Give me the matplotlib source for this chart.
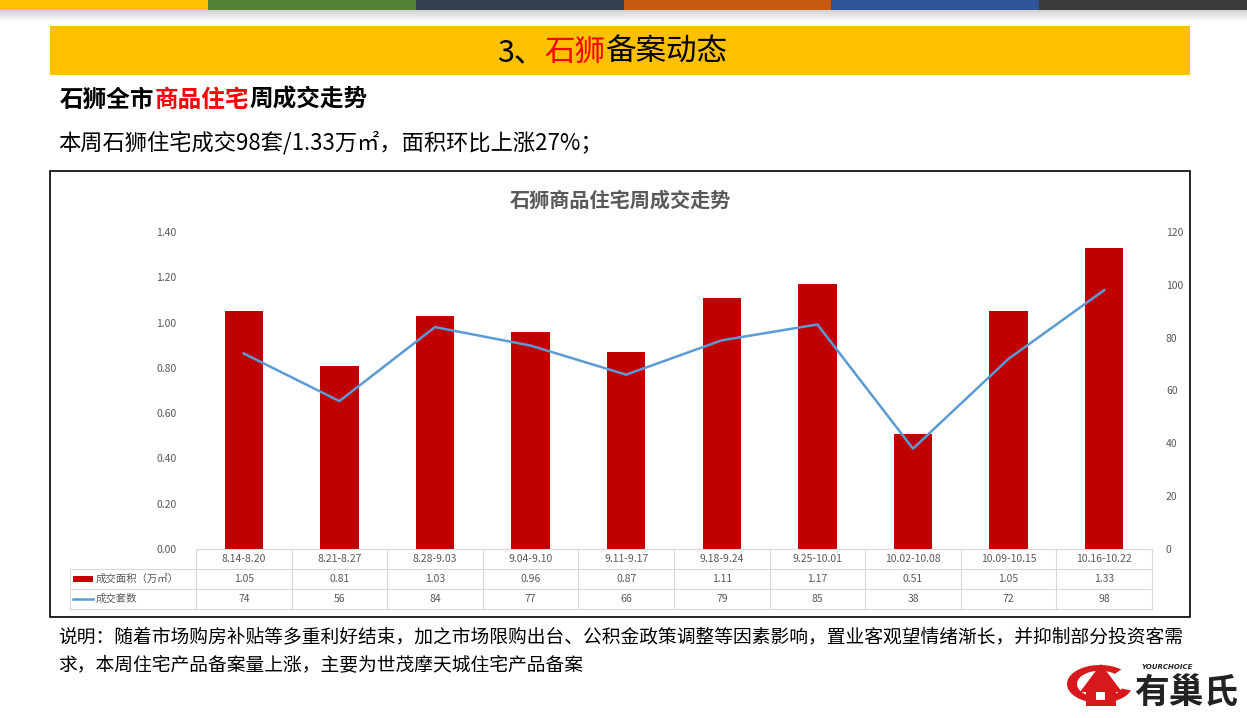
import numpy as np
import matplotlib.pyplot as plt
from matplotlib.patches import Rectangle, Wedge, Polygon
from matplotlib.lines import Line2D

plt.rcParams['font.family'] = ['Noto Sans CJK SC', 'DejaVu Sans']

weeks = ['8.14-8.20', '8.21-8.27', '8.28-9.03', '9.04-9.10', '9.11-9.17',
         '9.18-9.24', '9.25-10.01', '10.02-10.08', '10.09-10.15', '10.16-10.22']
area = [1.05, 0.81, 1.03, 0.96, 0.87, 1.11, 1.17, 0.51, 1.05, 1.33]   # 万㎡
units = [74, 56, 84, 77, 66, 79, 85, 38, 72, 98]                      # 套
area_label = '成交面积（万㎡）'
units_label = '成交套数'

W, H = 1247, 718
fig = plt.figure(figsize=(W / 100, H / 100), dpi=100)
fig.patch.set_facecolor('white')


def fx(px):
    return px / W


def fy(py):
    return 1 - py / H


def chain_text(x0, y0, parts, **kw):
    # coloured pieces written one after another; widths measured at 100 dpi
    r = fig.canvas.get_renderer()
    xp = x0
    for s, c in parts:
        t = fig.text(fx(xp), fy(y0), s, color=c, ha='left', va='baseline', **kw)
        xp += t.get_window_extent(renderer=r).width


# top colour stripes
stripes = ['#FFC000', '#548235', '#333F50', '#C55A11', '#2F5597', '#3B3B3B']
sw = W / len(stripes)
for i, c in enumerate(stripes):
    fig.patches.append(Rectangle((fx(i * sw), fy(10)), fx(sw), 10 / H,
                                 transform=fig.transFigure, color=c, lw=0))
# faint shadow under the stripes
grad = fig.add_axes([0, fy(22), 1, 12 / H])
grad.imshow(np.linspace(0.82, 1, 50).reshape(-1, 1), cmap='gray', vmin=0, vmax=1,
            aspect='auto', extent=(0, 1, 0, 1))
grad.axis('off')

# yellow banner
fig.patches.append(Rectangle((fx(50), fy(75)), fx(1140), 49 / H,
                             transform=fig.transFigure, color='#FFC000', lw=0))
chain_text(497, 61, [('3、', 'black'), ('石狮', '#FF0000'), ('备案动态', 'black')],
           fontsize=22)

# headings
chain_text(60, 107, [('石狮全市', 'black'), ('商品住宅', '#FF0000'),
                     ('周成交走势', 'black')], fontsize=17, fontweight='bold')
fig.text(fx(58), fy(150), '本周石狮住宅成交98套/1.33万㎡，面积环比上涨27%；',
         ha='left', va='baseline', fontsize=16, color='black')

# chart frame
fig.patches.append(Rectangle((fx(50), fy(617)), fx(1140), 446 / H,
                             transform=fig.transFigure, fill=False,
                             ec='black', lw=1.2))
fig.text(fx(620), fy(200), '石狮商品住宅周成交走势', ha='center', va='center',
         fontsize=14.5, fontweight='bold', color='#595959')

# plot area
L, R, T, B = 196, 1152, 232, 549
ax = fig.add_axes([fx(L), fy(B), fx(R - L), (B - T) / H])
x = np.arange(len(weeks))
ax.bar(x, area, width=0.4, color='#C00000', zorder=2)
ax.set_xlim(-0.5, len(weeks) - 0.5)
ax.set_ylim(0, 1.4)
ax.set_yticks(np.arange(0, 1.41, 0.2))
ax.set_yticklabels([f'{v:.2f}' for v in np.arange(0, 1.41, 0.2)])
ax.set_xticks([])
for s in ax.spines.values():
    s.set_visible(False)
ax.tick_params(axis='y', length=0, labelsize=7.5, labelcolor='#595959', pad=14)

ax2 = ax.twinx()
ax2.plot(x, units, color='#5B9BD5', lw=1.8, zorder=3)
ax2.set_ylim(0, 120)
ax2.set_yticks(range(0, 121, 20))
for s in ax2.spines.values():
    s.set_visible(False)
ax2.tick_params(axis='y', length=0, labelsize=7.5, labelcolor='#595959', pad=10)

# data table under the plot
grid_c = '#D9D9D9'
rows_px = [549, 569, 589, 609]
ay = [(B - p) / (B - T) for p in rows_px]
xl = (70 - L) / (R - L) * len(weeks) - 0.5   # left edge of legend column in data x
tr = ax.get_xaxis_transform()
ax.add_line(Line2D([-0.5, 9.5], [ay[0], ay[0]], transform=tr, color=grid_c,
                   lw=0.8, clip_on=False))
for yy in ay[1:]:
    ax.add_line(Line2D([xl, 9.5], [yy, yy], transform=tr, color=grid_c,
                       lw=0.8, clip_on=False))
for xb in np.arange(-0.5, 10, 1):
    ax.add_line(Line2D([xb, xb], [ay[0], ay[3]], transform=tr, color=grid_c,
                       lw=0.8, clip_on=False))
ax.add_line(Line2D([xl, xl], [ay[1], ay[3]], transform=tr, color=grid_c,
                   lw=0.8, clip_on=False))

for i in range(len(weeks)):
    ax.text(i, (ay[0] + ay[1]) / 2, weeks[i], transform=tr, ha='center',
            va='center', fontsize=7.5, color='#595959')
    ax.text(i, (ay[1] + ay[2]) / 2, f'{area[i]:.2f}', transform=tr, ha='center',
            va='center', fontsize=7.5, color='#595959')
    ax.text(i, (ay[2] + ay[3]) / 2, f'{units[i]}', transform=tr, ha='center',
            va='center', fontsize=7.5, color='#595959')

# legend keys inside table
fig.patches.append(Rectangle((fx(73), fy(582)), fx(20), 6 / H,
                             transform=fig.transFigure, color='#C00000', lw=0))
fig.lines.append(Line2D([fx(73), fx(93)], [fy(599), fy(599)],
                        transform=fig.transFigure, color='#5B9BD5', lw=1.8))
fig.text(fx(96), fy(579), area_label, ha='left', va='center', fontsize=7.5,
         color='#595959')
fig.text(fx(96), fy(599), units_label, ha='left', va='center', fontsize=7.5,
         color='#595959')

# note
fig.text(fx(58), fy(638),
         '说明：随着市场购房补贴等多重利好结束，加之市场限购出台、公积金政策调整等因素影响，置业客观望情绪渐长，并抑制部分投资客需',
         ha='left', va='center', fontsize=13.5, color='black')
fig.text(fx(58), fy(666), '求，本周住宅产品备案量上涨，主要为世茂摩天城住宅产品备案',
         ha='left', va='center', fontsize=13.5, color='black')

# logo
red = '#D7191C'
fig.patches.append(Wedge((fx(1100), fy(684)), 33 / W, 50, 340, width=10 / W,
                         transform=fig.transFigure, color=red, lw=0))
fig.patches.append(Polygon([(fx(1080), fy(692)), (fx(1101), fy(664)),
                            (fx(1122), fy(692))], closed=True,
                           transform=fig.transFigure, color=red, lw=0))
fig.patches.append(Rectangle((fx(1086), fy(706)), fx(30), 16 / H,
                             transform=fig.transFigure, color=red, lw=0))
fig.patches.append(Rectangle((fx(1096), fy(700)), fx(9), 8 / H,
                             transform=fig.transFigure, color='white', lw=0))
fig.text(fx(1142), fy(667), 'YOURCHOICE', ha='left', va='center', fontsize=5,
         style='italic', fontweight='bold', color='#222222', family='DejaVu Sans')
fig.text(fx(1134), fy(692), '有巢氏', ha='left', va='center', fontsize=25,
         fontweight='bold', color='#222222')

fig.savefig('out.png', dpi=100)
